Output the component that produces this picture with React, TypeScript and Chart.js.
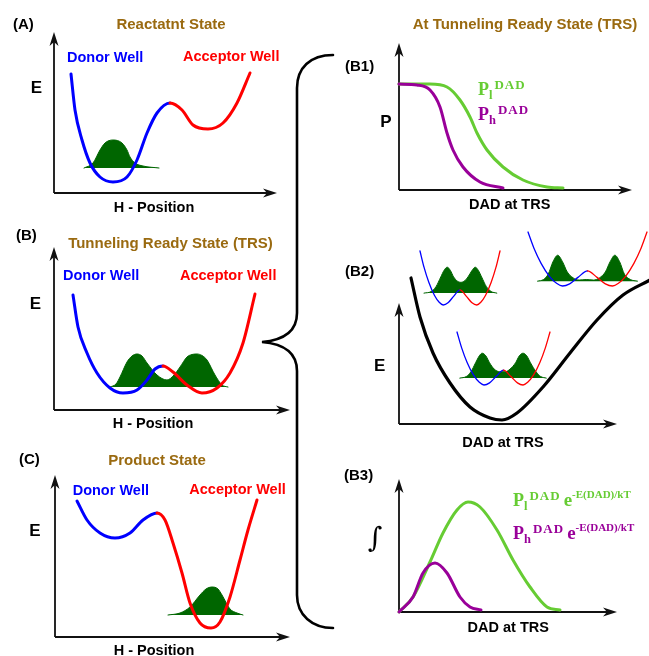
import React, { useEffect, useRef } from "react";
import { Chart, registerables } from "chart.js";
Chart.register(...registerables);

// ---------------- DATA (panel-local units) ----------------
// Panel A – reactant state
const aDonor = [[17,119],[21,83],[28,53],[36,30],[46,16],[59,11],[73,16],[83,33],[93,60],[103,80],[116,90]];
const aAcceptor = [[116,90],[128,83],[139,68],[154,64],[169,70],[183,90],[196,120]];
const aWave = [[30,25],[39,30],[46,43],[51,50],[59,53],[68,50],[73,43],[76,36],[81,30],[89,27],[105,25]];
const aWaveBase = 25;
// Panel B – tunneling ready state
const bDonor = [[19,115],[24,83],[33,57],[43,37],[56,22],[69,17],[83,20],[93,30],[101,41],[109,44]];
const bAcceptor = [[109,44],[119,38],[133,25],[148,17],[163,22],[176,37],[189,67],[201,116]];
const bWave = [[56,23],[62,26],[66,33],[73,48],[78,54],[83,56],[88,54],[93,47],[103,35],[113,30],[120,35],[126,43],[133,53],[138,55.5],[143,56],[148,54.5],[153,50],[161,35],[168,25],[174,23]];
const bWaveBase = 23;
// Panel C – product state
const cDonor = [[22,136],[32,117],[45,104],[60,99],[75,104],[88,117],[102,124]];
const cAcceptor = [[102,124],[110,117],[118,94],[127,64],[135,34],[145,14],[156,9],[165,15],[175,40],[185,77],[193,107],[202,137]];
const cWave = [[113,22],[125,24],[135,30],[145,42],[151,48],[157,50],[163,48],[167,42],[175,28],[182,24],[188,22]];
const cWaveBase = 22;
// Panel B1 – probability vs DAD
const b1Light = [[0,106],[31,106],[48,103],[61,90],[71,73],[78,57],[88,40],[104,23],[124,10],[148,3],[164,2]];
const b1Heavy = [[0,106],[18,105],[31,100],[41,83],[48,57],[54,40],[64,23],[81,8],[104,2]];
// Panel B2 – energy vs DAD
const b2Energy = [[12,146],[21,107],[34,71],[51,41],[71,17],[91,6],[103,4],[118,11],[144,37],[171,71],[198,104],[224,129],[251,144]];
// Inset double wells (normalised 0..100)
const insetDonor = [[0,100],[5,70],[11,42],[18,18],[24,5],[29,0],[35,4],[42,16],[50,28]];
const insetAcceptor = [[50,28],[58,16],[65,4],[71,0],[76,5],[82,18],[89,42],[95,70],[100,100]];
const inset1Wave = [[5,22],[14,25],[20,34],[26,52],[30,64],[34,70],[38,64],[42,52],[46,45],[51,42],[56,45],[60,52],[65,64],[69,70],[73,64],[77,52],[83,34],[89,25],[96,22]];
const inset1Base = 22;
const inset2Wave = [[8,9],[13,12],[17,22],[21,45],[25,57],[29,45],[33,26],[38,15],[43,11],[49,12],[55,11],[60,15],[65,26],[69,45],[73,57],[77,45],[81,22],[86,12],[92,9]];
const inset2Base = 9;
const inset3Wave = [[3,13],[10,16],[15,25],[20,42],[24,55],[27,60],[31,55],[35,42],[40,30],[46,25],[52,25],[57,30],[63,42],[67,55],[71,60],[75,55],[79,42],[85,25],[90,16],[96,13]];
const inset3Base = 13;
// Panel B3 – integrand vs DAD
const b3Light = [[0,0],[14,15],[31,50],[44,79],[58,102],[69,110],[81,105],[98,82],[114,52],[131,25],[148,5],[161,2]];
const b3Heavy = [[0,0],[14,15],[24,39],[36,49],[48,39],[61,15],[71,5],[82,2]];

// ---------------- TEXT ----------------
const panelTags = ["(A)", "(B)", "(C)", "(B1)", "(B2)", "(B3)"];
const panelTitles = ["Reactatnt State", "Tunneling Ready State (TRS)", "Product State", "At Tunneling Ready State (TRS)"];
const wellLabels = ["Donor Well", "Acceptor Well"];
const axisLabels = ["E", "H - Position", "P", "DAD at TRS", "\u222B"];
const pLabelParts = { sub: ["l", "h"], sup: "DAD", e: "e", exp: "-E(DAD)/kT" };

// ---------------- STYLE ----------------
const SANS = '"Liberation Sans", Arial, Helvetica, sans-serif';
const SERIF = '"Liberation Serif", "Times New Roman", serif';
const BLUE = "#0000ff";
const RED = "#ff0000";
const BROWN = "#9a6a10";
const WAVE = "#006600";
const LIGHT = "#66cc33";
const HEAVY = "#990099";

const arrowAxes = {
  id: "arrowAxes",
  beforeDatasetsDraw(chart: any, _args: any, opts: any) {
    if (!opts || !opts.show) return;
    const { ctx, scales } = chart;
    const left = scales.x.getPixelForValue(0);
    const bottom = scales.y.getPixelForValue(0);
    const right = scales.x.getPixelForValue(opts.xLen);
    const top = scales.y.getPixelForValue(opts.yLen);
    ctx.save();
    ctx.strokeStyle = "#111";
    ctx.fillStyle = "#111";
    ctx.lineWidth = 1.8;
    ctx.beginPath();
    ctx.moveTo(left, bottom);
    ctx.lineTo(right - 8, bottom);
    ctx.moveTo(left, bottom);
    ctx.lineTo(left, top + 8);
    ctx.stroke();
    ctx.beginPath();
    ctx.moveTo(right, bottom);
    ctx.lineTo(right - 14, bottom - 4.5);
    ctx.lineTo(right - 10, bottom);
    ctx.lineTo(right - 14, bottom + 4.5);
    ctx.closePath();
    ctx.fill();
    ctx.beginPath();
    ctx.moveTo(left, top);
    ctx.lineTo(left - 4.5, top + 14);
    ctx.lineTo(left, top + 10);
    ctx.lineTo(left + 4.5, top + 14);
    ctx.closePath();
    ctx.fill();
    ctx.restore();
  },
};

type Series = { pts: number[][]; color: string; width: number; base?: number; split?: number; color2?: string };
type BoxProps = {
  left: number; top: number; w: number; h: number;
  xMax: number; yMax: number;
  axis?: [number, number];
  pad: [number, number, number, number];
  series: Series[];
};

function PlotBox({ left, top, w, h, xMax, yMax, axis, pad, series }: BoxProps) {
  const ref = useRef<HTMLCanvasElement>(null);
  const [pt, pr, pb, pl] = pad;
  useEffect(() => {
    const chart = new Chart(ref.current as HTMLCanvasElement, {
      type: "line",
      data: {
        datasets: series.map((s) => ({
          data: s.pts.map(([x, y]) => ({ x, y })),
          borderColor: s.color,
          backgroundColor: s.color,
          borderWidth: s.width,
          fill: s.base !== undefined ? { value: s.base } : false,
          pointRadius: 0,
          cubicInterpolationMode: "monotone",
          clip: false,
          borderCapStyle: "round",
          borderJoinStyle: "round",
          segment: s.split !== undefined
            ? { borderColor: (c: any) => (c.p0DataIndex < (s.split as number) ? s.color : s.color2) }
            : undefined,
        })) as any,
      },
      options: {
        animation: false,
        responsive: false,
        events: [],
        layout: { padding: { top: pt, right: pr, bottom: pb, left: pl } },
        plugins: {
          legend: { display: false },
          tooltip: { enabled: false },
          arrowAxes: { show: !!axis, xLen: axis ? axis[0] : 0, yLen: axis ? axis[1] : 0 },
        } as any,
        scales: {
          x: { type: "linear", display: false, min: 0, max: xMax },
          y: { type: "linear", display: false, min: 0, max: yMax },
        },
      },
      plugins: [arrowAxes],
    });
    return () => chart.destroy();
  }, []);
  return (
    <canvas
      ref={ref}
      width={w + pl + pr}
      height={h + pt + pb}
      style={{ position: "absolute", left: left - pl, top: top - pt }}
    />
  );
}

function Txt({ x, y, children, color = "#000", size = 14.5, center = false, family = SANS, weight = "bold", italic = false }: any) {
  return (
    <div
      style={{
        position: "absolute", left: x, top: y,
        transform: center ? "translate(-50%,-50%)" : "translate(0,-50%)",
        color, fontFamily: family, fontWeight: weight,
        fontStyle: italic ? "italic" : "normal",
        fontSize: size, lineHeight: 1, whiteSpace: "nowrap",
      }}
    >
      {children}
    </div>
  );
}

function PLabel({ x, y, color, sub, withExp }: any) {
  return (
    <div style={{ position: "absolute", left: x, top: y, color, fontFamily: SERIF, fontWeight: "bold", lineHeight: 1, whiteSpace: "nowrap" }}>
      <span style={{ fontSize: 18 }}>P</span>
      <span style={{ fontSize: 12.5, position: "relative", top: 4 }}>{sub}</span>
      <span style={{ fontSize: 13, position: "relative", top: -6, letterSpacing: 1, marginLeft: 2 }}>{pLabelParts.sup}</span>
      {withExp && (
        <>
          <span style={{ fontSize: 19, marginLeft: 3 }}>{pLabelParts.e}</span>
          <span style={{ fontSize: 11, position: "relative", top: -8 }}>{pLabelParts.exp}</span>
        </>
      )}
    </div>
  );
}

const well = (d: number[][], a: number[][], wave: number[][], base: number, lw = 3): Series[] => [
  { pts: [...d, ...a.slice(1)], color: BLUE, color2: RED, split: d.length - 1, width: lw },
  { pts: wave, color: WAVE, width: 1, base },
];

export default function App() {
  const P: [number, number, number, number] = [14, 16, 12, 12];
  return (
    <div style={{ position: "absolute", left: 0, top: 0, width: 649, height: 656, background: "#fff", overflow: "hidden" }}>
      {/* Left column */}
      <PlotBox left={54} top={32} w={223} h={161} xMax={223} yMax={161} axis={[223, 161]} pad={P} series={well(aDonor, aAcceptor, aWave, aWaveBase)} />
      <PlotBox left={54} top={247} w={236} h={163} xMax={236} yMax={163} axis={[236, 163]} pad={P} series={well(bDonor, bAcceptor, bWave, bWaveBase)} />
      <PlotBox left={55} top={475} w={235} h={162} xMax={235} yMax={162} axis={[235, 162]} pad={P} series={well(cDonor, cAcceptor, cWave, cWaveBase)} />
      {/* Right column */}
      <PlotBox left={399} top={43} w={233} h={147} xMax={233} yMax={147} axis={[233, 147]} pad={P}
        series={[{ pts: b1Heavy, color: HEAVY, width: 3 }, { pts: b1Light, color: LIGHT, width: 3 }]} />
      <PlotBox left={399} top={274} w={260} h={150} xMax={260} yMax={150} axis={[218, 121]} pad={[8, 4, 12, 12]}
        series={[{ pts: b2Energy, color: "#000", width: 3.2 }]} />
      <PlotBox left={420} top={251} w={80} h={54} xMax={100} yMax={100} pad={[4, 4, 4, 4]}
        series={well(insetDonor, insetAcceptor, inset1Wave, inset1Base, 1.3)} />
      <PlotBox left={528} top={232} w={119} h={54} xMax={100} yMax={100} pad={[4, 4, 4, 4]}
        series={well(insetDonor, insetAcceptor, inset2Wave, inset2Base, 1.3)} />
      <PlotBox left={457} top={332} w={93} h={53} xMax={100} yMax={100} pad={[4, 4, 4, 4]}
        series={well(insetDonor, insetAcceptor, inset3Wave, inset3Base, 1.3)} />
      <PlotBox left={399} top={479} w={218} h={133} xMax={218} yMax={133} axis={[218, 133]} pad={P}
        series={[{ pts: b3Heavy, color: HEAVY, width: 3 }, { pts: b3Light, color: LIGHT, width: 3 }]} />

      {/* Brace */}
      <svg width={649} height={656} style={{ position: "absolute", left: 0, top: 0, pointerEvents: "none" }}>
        <path
          d="M333,55 C310,55 297,68 297,88 L297,313 C297,330 285,340 262,342 C285,344 297,354 297,371 L297,595 C297,615 312,628 333,628"
          fill="none" stroke="#000" strokeWidth={2.6} strokeLinecap="round"
        />
      </svg>

      {/* Panel A texts */}
      <Txt x={13} y={23} size={15}>{panelTags[0]}</Txt>
      <Txt x={171} y={22.5} size={15} color={BROWN} center>{panelTitles[0]}</Txt>
      <Txt x={67} y={56.5} color={BLUE}>{wellLabels[0]}</Txt>
      <Txt x={183} y={56} color={RED}>{wellLabels[1]}</Txt>
      <Txt x={36.5} y={87} size={17} center>{axisLabels[0]}</Txt>
      <Txt x={154} y={207} center>{axisLabels[1]}</Txt>
      {/* Panel B texts */}
      <Txt x={16} y={234} size={15}>{panelTags[1]}</Txt>
      <Txt x={170.5} y={242} size={15} color={BROWN} center>{panelTitles[1]}</Txt>
      <Txt x={63} y={275.3} color={BLUE}>{wellLabels[0]}</Txt>
      <Txt x={180} y={274.7} color={RED}>{wellLabels[1]}</Txt>
      <Txt x={35.5} y={303} size={17} center>{axisLabels[0]}</Txt>
      <Txt x={153} y={423.3} center>{axisLabels[1]}</Txt>
      {/* Panel C texts */}
      <Txt x={19} y={458} size={15}>{panelTags[2]}</Txt>
      <Txt x={157} y={459} size={15} color={BROWN} center>{panelTitles[2]}</Txt>
      <Txt x={72.7} y={489.7} color={BLUE}>{wellLabels[0]}</Txt>
      <Txt x={189.3} y={488.7} color={RED}>{wellLabels[1]}</Txt>
      <Txt x={34.8} y={529.5} size={17} center>{axisLabels[0]}</Txt>
      <Txt x={154} y={650} center>{axisLabels[1]}</Txt>
      {/* Right column texts */}
      <Txt x={525} y={23.3} size={15} color={BROWN} center>{panelTitles[3]}</Txt>
      <Txt x={345} y={65} size={15}>{panelTags[3]}</Txt>
      <Txt x={385.8} y={121.3} size={17} center>{axisLabels[2]}</Txt>
      <Txt x={509.7} y={204.3} center>{axisLabels[3]}</Txt>
      <PLabel x={478} y={80} color={LIGHT} sub={pLabelParts.sub[0]} />
      <PLabel x={478} y={105} color={HEAVY} sub={pLabelParts.sub[1]} />
      <Txt x={345} y={270.3} size={15}>{panelTags[4]}</Txt>
      <Txt x={379.7} y={365} size={17} center>{axisLabels[0]}</Txt>
      <Txt x={503} y={441.7} center>{axisLabels[3]}</Txt>
      <Txt x={344} y={473.8} size={15}>{panelTags[5]}</Txt>
      <Txt x={375} y={538} size={28} family='"DejaVu Serif", serif' weight="normal" italic center>{axisLabels[4]}</Txt>
      <Txt x={508.3} y={626.7} center>{axisLabels[3]}</Txt>
      <PLabel x={513} y={490} color={LIGHT} sub={pLabelParts.sub[0]} withExp />
      <PLabel x={513} y={523} color={HEAVY} sub={pLabelParts.sub[1]} withExp />
    </div>
  );
}
